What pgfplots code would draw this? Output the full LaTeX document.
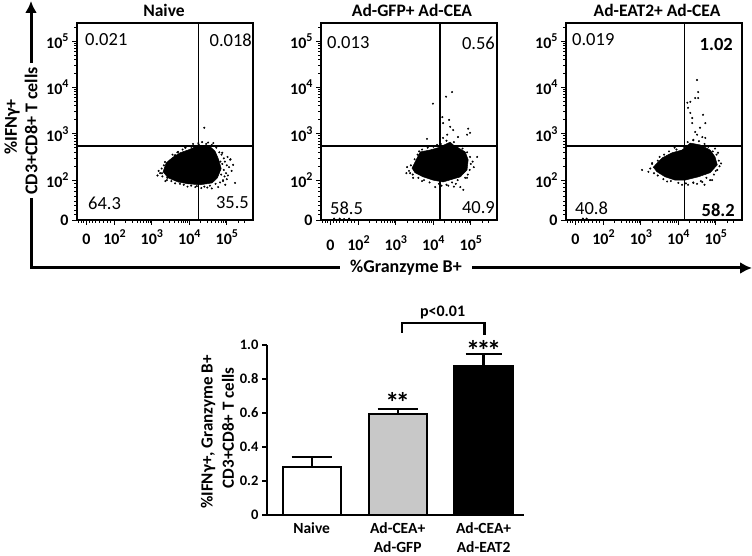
\documentclass[border=0pt]{standalone}
\usepackage{fontspec}
\setmainfont{Carlito}
\usepackage{pgfplots}
\pgfplotsset{compat=1.18}
\usetikzlibrary{arrows.meta}
\newcommand{\tp}[1]{10\raisebox{0.42em}{\fontsize{12}{12}\selectfont #1}}
\pgfplotsset{
  flow/.style={
    scale only axis, width=176pt, height=197pt,
    xmin=1.0, xmax=5.7, ymin=1.14, ymax=5.39,
    axis line style={line width=1.2pt},
    tick align=outside, tick pos=left,
    xtick={1.25,2,3,4,5}, ytick={1.14,2,3,4,5},
    xticklabels={0,\tp{2},\tp{3},\tp{4},\tp{5}},
    yticklabels={0,\tp{2},\tp{3},\tp{4},\tp{5}},
    minor xtick={1.05,1.12,1.18,1.32,1.40,1.50,1.60,1.70,1.80,1.90,
      2.301,2.477,2.602,2.699,2.778,2.845,2.903,2.954,
      3.301,3.477,3.602,3.699,3.778,3.845,3.903,3.954,
      4.301,4.477,4.602,4.699,4.778,4.845,4.903,4.954,5.301,5.477},
    minor ytick={1.25,1.35,1.45,1.55,1.65,1.75,1.85,1.92,
      2.301,2.477,2.602,2.699,2.778,2.845,2.903,2.954,
      3.301,3.477,3.602,3.699,3.778,3.845,3.903,3.954,
      4.301,4.477,4.602,4.699,4.778,4.845,4.903,4.954,5.301},
    major tick length=5pt, minor tick length=3pt,
    every tick/.style={black, line width=0.9pt},
    ticklabel style={font=\bfseries\fontsize{16}{16}\selectfont},
    xticklabel style={text height=15pt, text depth=0pt, anchor=north, yshift=-1pt},
  },
  gate/.style={black, line width=1.6pt},
  blob/.style={fill=black, draw=black, line width=0.5pt},
  dots/.style={only marks, mark=*, mark size=0.8pt, black},
}
\tikzset{bigf/.style={font=\bfseries\fontsize{18}{18}\selectfont}}
\begin{document}
\begin{tikzpicture}[x=1pt,y=1pt]
\useasboundingbox (0,0) rectangle (752,556);

% ---------- Naive
\begin{axis}[flow, at={(77pt,336pt)}, anchor=south west]
\addplot[blob] coordinates {(3.30,2.18) (3.38,2.37) (3.54,2.48) (3.75,2.59) (3.97,2.65) (4.16,2.72) (4.37,2.74) (4.56,2.72) (4.69,2.62) (4.78,2.45) (4.85,2.25) (4.75,2.05) (4.61,1.94) (4.29,1.90) (3.97,1.92) (3.70,1.96) (3.43,2.05)} -- cycle;
\addplot[dots] coordinates {(3.22,2.15) (3.26,2.25) (3.32,2.32) (3.28,2.08) (3.40,2.00) (3.48,2.42) (3.60,2.52) (3.68,2.60) (3.82,2.66) (3.90,2.70) (4.05,2.72) (4.25,2.77) (4.45,2.78) (4.60,2.76) (4.72,2.70) (4.80,2.60) (4.86,2.55) (4.92,2.47) (4.95,2.40) (5.00,2.32) (5.06,2.28) (4.98,2.15) (4.94,2.08) (4.90,1.98) (4.82,1.95) (4.70,1.92) (4.55,1.88) (4.40,1.86) (4.20,1.87) (4.05,1.88) (3.85,1.90) (3.62,1.93) (3.52,1.98) (5.10,2.45) (5.02,2.50) (4.88,2.35) (4.78,2.30) (4.40,3.13) (4.10,2.78) (4.24,2.80) (4.34,2.82) (4.64,2.80) (4.88,2.59) (5.09,2.44) (5.17,2.33) (5.22,1.94) (4.90,2.00) (4.96,1.90) (4.77,1.85) (3.27,2.15) (3.35,2.39) (3.41,2.05) (3.97,1.94) (3.89,2.70) (3.62,2.54) (3.70,2.61) (4.16,1.85) (4.32,1.83) (4.85,2.12) (4.92,2.22) (5.03,2.10) (4.83,2.40) (4.70,2.50) (3.18,2.20) (3.15,2.10) (3.36,1.98) (3.55,2.55) (4.50,2.81) (5.13,2.20) (5.00,2.02) (4.60,1.82) (4.48,1.84) (3.95,1.86) (3.75,1.92)};
\addplot[gate] coordinates {(4.24,1.14) (4.24,5.39)};
\addplot[gate] coordinates {(1.0,2.74) (5.7,2.74)};
\end{axis}

% ---------- Ad-GFP + Ad-CEA
\begin{axis}[flow, at={(321pt,336pt)}, anchor=south west, xticklabel style={yshift=-6pt}]
\addplot[blob] coordinates {(3.43,2.26) (3.65,2.61) (3.91,2.65) (4.13,2.70) (4.45,2.82) (4.53,2.76) (4.85,2.61) (4.93,2.44) (4.90,2.22) (4.72,2.07) (4.26,1.96) (3.99,2.00) (3.73,2.07) (3.51,2.16)} -- cycle;
\addplot[dots] coordinates {(3.35,2.20) (3.40,2.32) (3.50,2.45) (3.58,2.55) (3.70,2.66) (3.85,2.70) (4.00,2.72) (4.20,2.78) (4.35,2.85) (4.55,2.82) (4.65,2.72) (4.78,2.68) (4.90,2.60) (4.98,2.50) (5.00,2.35) (4.97,2.22) (4.92,2.12) (4.85,2.05) (4.65,2.00) (4.50,1.95) (4.35,1.90) (4.15,1.92) (3.90,1.95) (3.75,2.00) (3.60,2.05) (3.45,2.12) (3.38,2.15) (5.05,2.40) (4.60,1.92) (4.40,1.88) (3.99,3.65) (4.34,3.80) (4.50,3.90) (4.24,3.36) (4.26,3.23) (4.42,3.30) (4.45,3.15) (4.53,3.08) (4.93,3.11) (4.98,3.02) (4.90,2.98) (4.66,2.93) (3.83,2.89) (4.37,2.98) (5.17,2.50) (4.90,2.05) (4.72,1.85) (4.80,1.79) (4.05,1.85) (3.30,2.28) (4.26,2.91) (3.28,2.15) (3.46,2.05) (3.62,2.62) (4.10,2.76) (5.08,2.28) (4.55,1.86) (4.22,1.88) (3.70,1.98) (1.35,1.17) (1.50,1.17) (1.62,1.16) (1.75,1.17)};
\addplot[gate] coordinates {(4.18,1.14) (4.18,5.39)};
\addplot[gate] coordinates {(1.0,2.74) (5.7,2.74)};
\end{axis}

% ---------- Ad-EAT2 + Ad-CEA
\begin{axis}[flow, at={(566pt,336pt)}, anchor=south west]
\addplot[blob] coordinates {(3.33,2.28) (3.57,2.48) (3.83,2.59) (4.10,2.65) (4.32,2.80) (4.58,2.76) (4.85,2.65) (4.98,2.50) (5.04,2.33) (4.85,2.16) (4.53,2.07) (4.18,2.00) (3.91,2.00) (3.65,2.07) (3.43,2.18)} -- cycle;
\addplot[dots] coordinates {(3.25,2.25) (3.30,2.35) (3.45,2.42) (3.62,2.55) (3.75,2.62) (3.95,2.66) (4.15,2.72) (4.25,2.82) (4.40,2.86) (4.55,2.84) (4.70,2.78) (4.80,2.72) (4.92,2.62) (5.02,2.55) (5.08,2.42) (5.10,2.30) (5.00,2.20) (4.95,2.12) (4.75,2.05) (4.60,1.98) (4.40,1.95) (4.20,1.93) (4.00,1.94) (3.80,1.98) (3.60,2.02) (3.45,2.10) (3.35,2.15) (4.50,1.92) (4.85,2.00) (4.50,4.16) (4.53,3.90) (4.45,3.77) (4.53,3.77) (4.32,3.69) (4.24,3.67) (4.26,3.56) (4.32,3.45) (4.37,3.34) (4.37,3.23) (4.66,3.41) (4.72,3.23) (4.58,3.13) (4.45,3.04) (4.50,2.98) (4.64,2.93) (4.72,2.91) (4.40,2.87) (3.03,2.22) (3.30,2.37) (4.40,1.94) (4.64,1.96) (4.26,1.90) (4.90,2.00) (5.04,2.22) (5.06,2.59) (3.20,2.18) (3.50,2.50) (3.90,2.70) (4.98,2.68) (5.14,2.36) (4.70,1.90) (4.10,1.90) (3.70,1.97) (1.45,1.17) (1.55,1.17)};
\addplot[gate] coordinates {(4.16,1.14) (4.16,5.39)};
\addplot[gate] coordinates {(1.0,2.74) (5.7,2.74)};
\end{axis}

% titles
\node[font=\bfseries\fontsize{17.5}{17.5}\selectfont] at (164,546) {Naive};
\node[font=\bfseries\fontsize{17.5}{17.5}\selectfont] at (412,546) {Ad-GFP+ Ad-CEA};
\node[font=\bfseries\fontsize{17.5}{17.5}\selectfont] at (657,546) {Ad-EAT2+ Ad-CEA};

% quadrant numbers
\begin{scope}[every node/.style={inner sep=0pt, font=\fontsize{18.5}{18.5}\selectfont}]
\node[anchor=west] at (85,516) {0.021};
\node[anchor=east] at (252,516) {0.018};
\node[anchor=west] at (88,353) {64.3};
\node[anchor=east] at (249,353) {35.5};
\node[anchor=west] at (327,513) {0.013};
\node[anchor=east] at (495,513) {0.56};
\node[anchor=west] at (330,348) {58.5};
\node[anchor=east] at (495,348) {40.9};
\node[anchor=west] at (572,516) {0.019};
\node[anchor=east, font=\bfseries\fontsize{18.5}{18.5}\selectfont] at (733,511) {1.02};
\node[anchor=west] at (575,348) {40.8};
\node[anchor=east, font=\bfseries\fontsize{18.5}{18.5}\selectfont] at (735,346) {58.2};
\end{scope}

% big axis arrows
\draw[line width=3pt] (31,358) -- (31,288) -- (340,288);
\draw[line width=3pt, -{Latex[length=12pt,width=12pt]}] (31,493) -- (31,555);
\draw[line width=3pt, -{Latex[length=12pt,width=12pt]}] (472,288) -- (752,288);
\node[rotate=90, bigf] at (31,425) {CD3+CD8+ T cells};
\node[rotate=90, bigf] at (12,429) {\%IFNγ+};
\node[bigf] at (406,288) {\%Granzyme B+};

% ---------- bar chart
\begin{axis}[at={(267pt,41pt)}, anchor=south west, scale only axis,
  width=257pt, height=170pt,
  xmin=-0.52, xmax=2.47, ymin=0, ymax=1,
  axis x line*=bottom, axis y line*=left,
  axis line style={line width=2.4pt, -},
  xtick={0,1,2},
  xticklabels={Naive,{Ad-CEA+\\Ad-GFP},{Ad-CEA+\\Ad-EAT2}},
  xticklabel style={align=center, font=\bfseries\fontsize{15.5}{19}\selectfont, yshift=1pt},
  xtick style={draw=none},
  ytick={0,0.2,0.4,0.6,0.8,1.0},
  yticklabels={0,0.2,0.4,0.6,0.8,1.0},
  ytick style={line width=2pt, black},
  tick align=outside, major tick length=5pt,
  yticklabel style={font=\bfseries\fontsize{14.5}{14.5}\selectfont},
  clip=false]
\addplot[ybar, bar width=58pt, bar shift=0pt, fill=white, draw=black, line width=2.3pt,
  error bars/.cd, y dir=plus, y explicit, error bar style={line width=2.3pt},
  error mark options={rotate=90, mark size=20pt, line width=2.3pt}]
  coordinates {(0,0.282) +- (0,0.059)};
\addplot[ybar, bar width=58pt, bar shift=0pt, fill={rgb,255:red,200;green,200;blue,200}, draw=black, line width=2.3pt,
  error bars/.cd, y dir=plus, y explicit, error bar style={line width=2.3pt},
  error mark options={rotate=90, mark size=20pt, line width=2.3pt}]
  coordinates {(1,0.594) +- (0,0.030)};
\addplot[ybar, bar width=58pt, bar shift=0pt, fill=black, draw=black, line width=2.3pt,
  error bars/.cd, y dir=plus, y explicit, error bar style={line width=2.3pt},
  error mark options={rotate=90, mark size=18pt, line width=2.3pt}]
  coordinates {(2,0.876) +- (0,0.071)};
\node[anchor=north, inner sep=0pt, font=\bfseries\fontsize{28}{28}\selectfont] at (axis cs:1,0.72) {*\kern-3.5pt*};
\node[anchor=north, inner sep=0pt, font=\bfseries\fontsize{28}{28}\selectfont] at (axis cs:2,1.026) {*\kern-3.5pt*\kern-3.5pt*};
\draw[line width=2.3pt] (axis cs:1.047,1.071) -- (axis cs:1.047,1.129) -- (axis cs:2.01,1.129) -- (axis cs:2.01,1.059);
\node[font=\bfseries\fontsize{16}{16}\selectfont] at (axis cs:1.523,1.194) {p<0.01};
\end{axis}
\node[rotate=90, font=\bfseries\fontsize{17}{17}\selectfont] at (208,124) {\%IFNγ+, Granzyme B+};
\node[rotate=90, font=\bfseries\fontsize{17}{17}\selectfont] at (228,128) {CD3+CD8+ T cells};
\end{tikzpicture}
\end{document}
